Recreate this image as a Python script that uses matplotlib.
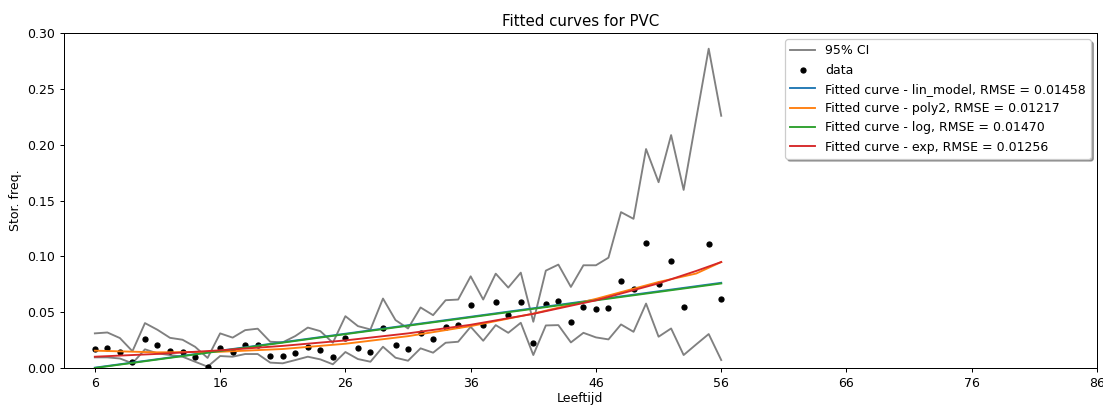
import matplotlib
matplotlib.use('Agg')
import matplotlib.pyplot as plt

# Observed data per age (no visible point at age 54)
ages = list(range(6, 57))
freq = [0.017, 0.0182, 0.0146, 0.0056, 0.0256, 0.0205, 0.0152, 0.014, 0.0095, 0.0012,
        0.0183, 0.0146, 0.0205, 0.0205, 0.0107, 0.0107, 0.0137, 0.019, 0.016, 0.0095,
        0.0272, 0.0182, 0.0146, 0.036, 0.0205, 0.0172, 0.0315, 0.0259, 0.0369, 0.0381,
        0.0568, 0.0384, 0.0589, 0.0479, 0.0589, 0.0226, 0.0577, 0.0601, 0.0414, 0.0548,
        0.0524, 0.0539, 0.0777, 0.0705, 0.1119, 0.0756, 0.0955, 0.0548, float('nan'), 0.1107, 0.0622]

ci_upper = [0.031, 0.0318, 0.0268, 0.015, 0.0402, 0.0342, 0.027, 0.0253, 0.019, 0.009,
            0.031, 0.0272, 0.0339, 0.0352, 0.0235, 0.023, 0.0286, 0.0362, 0.033, 0.0226,
            0.0464, 0.0375, 0.0345, 0.0622, 0.0429, 0.0354, 0.0542, 0.0473, 0.0607, 0.0613,
            0.0821, 0.0613, 0.0845, 0.072, 0.0854, 0.0414, 0.0872, 0.0926, 0.0726, 0.092,
            0.092, 0.0988, 0.1396, 0.1336, 0.1961, 0.1664, 0.2086, 0.1595, 0.223, 0.286, 0.2259]

ci_lower = [0.0095, 0.0095, 0.0085, 0.0042, 0.0167, 0.0131, 0.0116, 0.0101, 0.0056, 0.0012,
            0.0107, 0.0101, 0.0125, 0.0125, 0.0048, 0.0042, 0.0071, 0.0101, 0.0077, 0.0033,
            0.0143, 0.008, 0.0056, 0.019, 0.0092, 0.0065, 0.0176, 0.0137, 0.0226, 0.0235,
            0.0369, 0.0244, 0.0384, 0.0315, 0.0405, 0.0116, 0.0381, 0.0384, 0.0229, 0.0315,
            0.0274, 0.0256, 0.039, 0.0324, 0.0577, 0.028, 0.0354, 0.0116, 0.0211, 0.0304, 0.0071]

# Fitted curves
line_ages = [6, 56]
lin_fit = [0.0003, 0.0763]
log_fit = [0.0, 0.0757]

fit_ages = [6, 11, 16, 21, 26, 31, 36, 41, 46, 51, 54, 56]
poly2_fit = [0.0155, 0.0140, 0.0145, 0.0170, 0.0217, 0.0285, 0.0375, 0.0487, 0.0619, 0.0770, 0.0846, 0.0949]
exp_fit = [0.0101, 0.0126, 0.0158, 0.0198, 0.0247, 0.0310, 0.0387, 0.0485, 0.0606, 0.0758, 0.0869, 0.0949]

labels = ['Fitted curve - lin_model, RMSE = 0.01458',
          'Fitted curve - poly2, RMSE = 0.01217',
          'Fitted curve - log, RMSE = 0.01470',
          'Fitted curve - exp, RMSE = 0.01256']

fig = plt.figure(figsize=(1103/90, 405/90), dpi=90)
ax = fig.add_axes([0.0576, 0.0914, 0.937, 0.827])

ax.plot(ages, ci_upper, color='grey', label='95% CI')
ax.plot(ages, ci_lower, color='grey')
ax.scatter(ages, freq, color='black', s=16, label='data', zorder=2)
ax.plot(line_ages, lin_fit, color='tab:blue', label=labels[0])
ax.plot(fit_ages, poly2_fit, color='tab:orange', label=labels[1])
ax.plot(line_ages, log_fit, color='tab:green', label=labels[2])
ax.plot(fit_ages, exp_fit, color='tab:red', label=labels[3])

ax.set_xlim(3.5, 86)
ax.set_ylim(0, 0.30)
ax.set_xticks(range(6, 87, 10))
ax.set_xlabel('Leeftijd', labelpad=2)
ax.set_ylabel('Stor. freq.')
ax.set_title('Fitted curves for PVC')
ax.legend(loc='upper right', shadow=True)

fig.savefig('out.png', dpi=90, facecolor='white')
